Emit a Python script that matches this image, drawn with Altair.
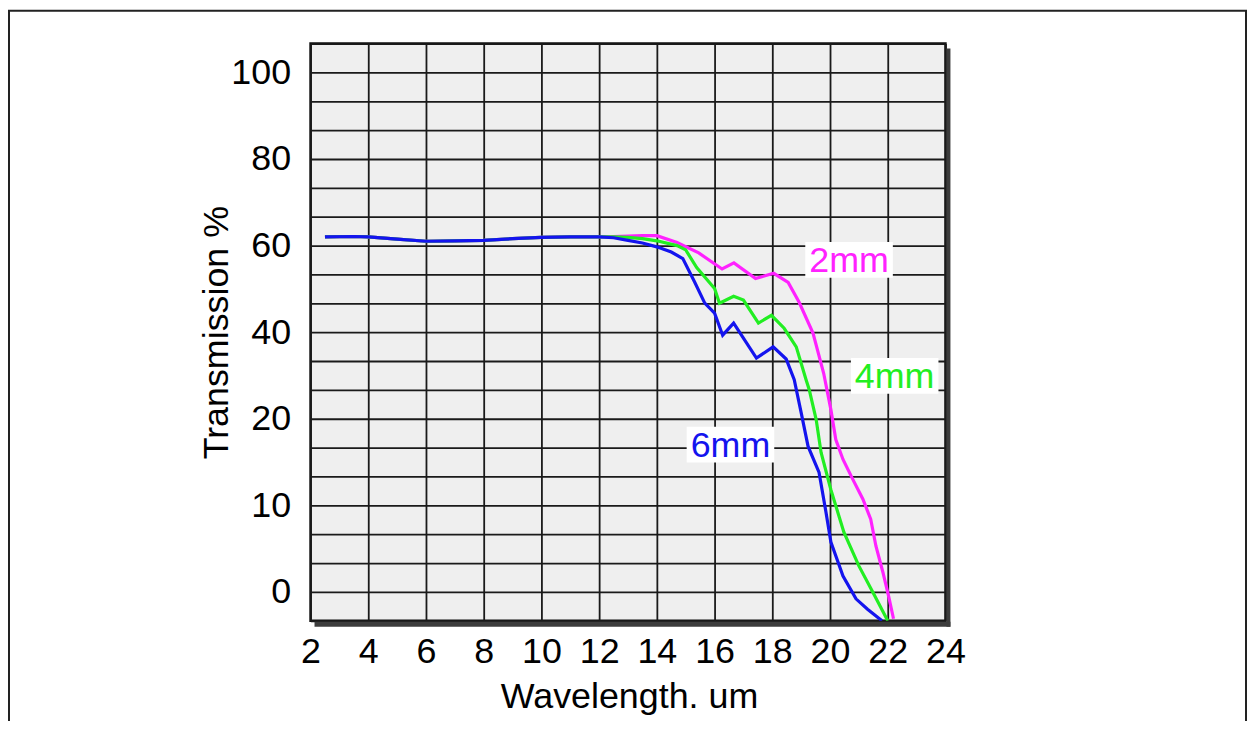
import altair as alt
import pandas as pd

# ---- data ----
flat_x = [2.5, 3.5, 4.0, 5.0, 6.0, 7.0, 8.0, 9.0, 10.0, 11.0, 12.0]
flat_y = [62.0, 62.1, 62.0, 61.5, 61.0, 61.1, 61.2, 61.6, 61.9, 62.0, 62.0]

mm2_x = flat_x + [12.5, 13.0, 13.5, 14.0, 14.7, 15.45, 16.26, 16.67, 17.42, 18.05, 18.55, 18.93,
                  19.41, 19.78, 20.03, 20.2, 20.45, 20.79, 21.14, 21.41, 21.59, 21.83, 22.03, 22.2]
mm2_y = flat_y + [62.1, 62.2, 62.3, 62.3, 60.7, 58.3, 54.6, 56.0, 52.4, 53.6, 51.5, 46.9,
                  39.8, 30.5, 22.1, 17.6, 15.3, 13.0, 10.7, 8.4, 5.3, 2.3, -0.5, -3.1]

mm4_x = flat_x + [12.5, 13.0, 13.5, 14.0, 14.7, 15.0, 15.38, 16.0, 16.17, 16.66, 17.0, 17.52,
                  17.97, 18.41, 18.83, 19.17, 19.28, 19.52, 19.69, 20.03, 20.48, 21.0, 21.48, 22.0]
mm4_y = flat_y + [62.0, 61.9, 61.6, 61.1, 60.0, 59.0, 54.9, 50.1, 46.7, 48.3, 47.4, 42.1,
                  43.9, 40.9, 36.6, 29.0, 26.7, 19.9, 16.1, 11.8, 6.9, 3.0, 0.0, -3.33]

mm6_x = flat_x + [12.5, 13.0, 13.5, 14.0, 14.5, 14.9, 15.3, 15.66, 16.0, 16.28, 16.66, 17.45,
                  18.03, 18.48, 18.76, 19.0, 19.24, 19.62, 19.86, 20.03, 20.45, 20.9, 21.3, 21.8]
mm6_y = flat_y + [61.8, 61.2, 60.6, 59.7, 58.5, 57.0, 51.7, 46.7, 44.4, 39.3, 42.1, 34.0,
                  36.6, 33.8, 29.0, 21.4, 16.8, 13.8, 9.2, 5.75, 1.84, -0.8, -2.0, -3.33]

series_names = ["2mm", "4mm", "6mm"]
series_colors = ["#ff22ff", "#22ee22", "#1414ee"]

label_text = ["2mm", "4mm", "6mm"]
label_x = [20.66, 22.24, 16.55]
label_y = [56.7, 29.9, 17.0]

x_ticks = [2, 4, 6, 8, 10, 12, 14, 16, 18, 20, 22, 24]
y_labels = [0, 10, 20, 40, 60, 80, 100]
# the printed y axis is non-uniform: each labelled step is 3 grid rows,
# plus one extra row below 0 and one above 100
y_breaks = [-10 / 3, 0, 10, 20, 40, 60, 80, 100, 100 + 20 / 3]

# grid rows: two extra lines between consecutive labelled values
y_grid = [y_breaks[0]]
for a, b in zip(y_labels[:-1], y_labels[1:]):
    y_grid += [a, a + (b - a) / 3, a + 2 * (b - a) / 3]
y_grid += [y_labels[-1], y_breaks[-1]]

# ---- build tables ----
rows = []
for name, xs, ys in zip(series_names, [mm2_x, mm4_x, mm6_x], [mm2_y, mm4_y, mm6_y]):
    for i, (xv, yv) in enumerate(zip(xs, ys)):
        rows.append({"series": name, "wl": xv, "tr": yv, "order": i})
df = pd.DataFrame(rows)
lab = pd.DataFrame({"text": label_text, "wl": label_x, "tr": label_y})

W, H = 638, 580
row_px = H / 20
y_range = [H, H - row_px] + [H - row_px - 3 * row_px * k for k in range(1, 7)] + [0]

xscale = alt.Scale(domain=[2, 24], nice=False, zero=False)
yscale = alt.Scale(domain=y_breaks, range=y_range, nice=False, zero=False, clamp=False)

FONT = "Liberation Sans"
FS = 36

label_js = "[" + ",".join(str(v) for v in y_labels) + "]"

x_axis = alt.Axis(values=x_ticks, title="Wavelength. um", grid=True, ticks=False, domain=False,
                  labelFontSize=FS, titleFontSize=FS, labelPadding=14, labelColor="#000",
                  titleColor="#000", titleFontWeight="normal", gridColor="#1a1a1a",
                  gridWidth=1.8, gridOpacity=1, titleX=W / 2 + 1, titleY=76,
                  titleBaseline="middle", labelFlush=False, labelOverlap=False, format="d")
y_axis = alt.Axis(values=y_grid, title="Transmission %", grid=True, ticks=False, domain=False,
                  labelFontSize=FS, titleFontSize=FS, labelPadding=20, labelColor="#000",
                  titleColor="#000", titleFontWeight="normal", gridColor="#1a1a1a",
                  gridWidth=1.8, gridOpacity=1, titleX=-94, titleY=H / 2,
                  titleBaseline="middle", titleAlign="center", titleAngle=270,
                  labelFlush=False, labelOverlap=False, tickCount=40, format="d",
                  labelExpr="indexof(" + label_js + ", round(datum.value*1000)/1000) >= 0 ? datum.label : ''")

base = alt.Chart(df)

lines = base.mark_line(strokeWidth=3.2, clip=True).encode(
    x=alt.X("wl:Q", scale=xscale, axis=x_axis),
    y=alt.Y("tr:Q", scale=yscale, axis=y_axis),
    color=alt.Color("series:N", scale=alt.Scale(domain=series_names, range=series_colors),
                    legend=None),
    order="order:Q",
    detail="series:N",
)

boxes = alt.Chart(lab).mark_rect(color="white", xOffset=-44, x2Offset=44,
                                 yOffset=-18, y2Offset=18).encode(
    x=alt.X("wl:Q", scale=xscale), x2="wl:Q",
    y=alt.Y("tr:Q", scale=yscale), y2="tr:Q",
)
texts = alt.Chart(lab).mark_text(fontSize=FS, font=FONT, baseline="middle", align="center",
                                 dy=1).encode(
    x=alt.X("wl:Q", scale=xscale),
    y=alt.Y("tr:Q", scale=yscale),
    text="text:N",
    color=alt.Color("text:N", scale=alt.Scale(domain=series_names, range=series_colors),
                    legend=None),
)

deco = pd.DataFrame({"k": [1]})
shadow_r = alt.Chart(deco).mark_rect(color="#3c3c3c").encode(
    x=alt.value(W + 1), x2=alt.value(W + 5), y=alt.value(5), y2=alt.value(H + 6))
shadow_b = alt.Chart(deco).mark_rect(color="#3c3c3c").encode(
    x=alt.value(4), x2=alt.value(W + 5), y=alt.value(H + 1), y2=alt.value(H + 6))
frame = alt.Chart(deco).mark_rect(fill=None, stroke="#222", strokeWidth=2).encode(
    x=alt.value(-303), x2=alt.value(940), y=alt.value(-33), y2=alt.value(800))

chart = alt.layer(frame, shadow_r, shadow_b, lines, boxes, texts).properties(
    width=W, height=H,
    autosize=alt.AutoSizeParams(type="none"),
    padding={"left": 304, "top": 34, "right": 303, "bottom": 99},
    background="white",
).configure_view(
    fill="#efefef", stroke="#111", strokeWidth=2.5
).configure_axis(
    labelFont=FONT, titleFont=FONT
).resolve_scale(color="independent")

chart.save("out.html", embed_options={"renderer": "svg", "actions": False})
